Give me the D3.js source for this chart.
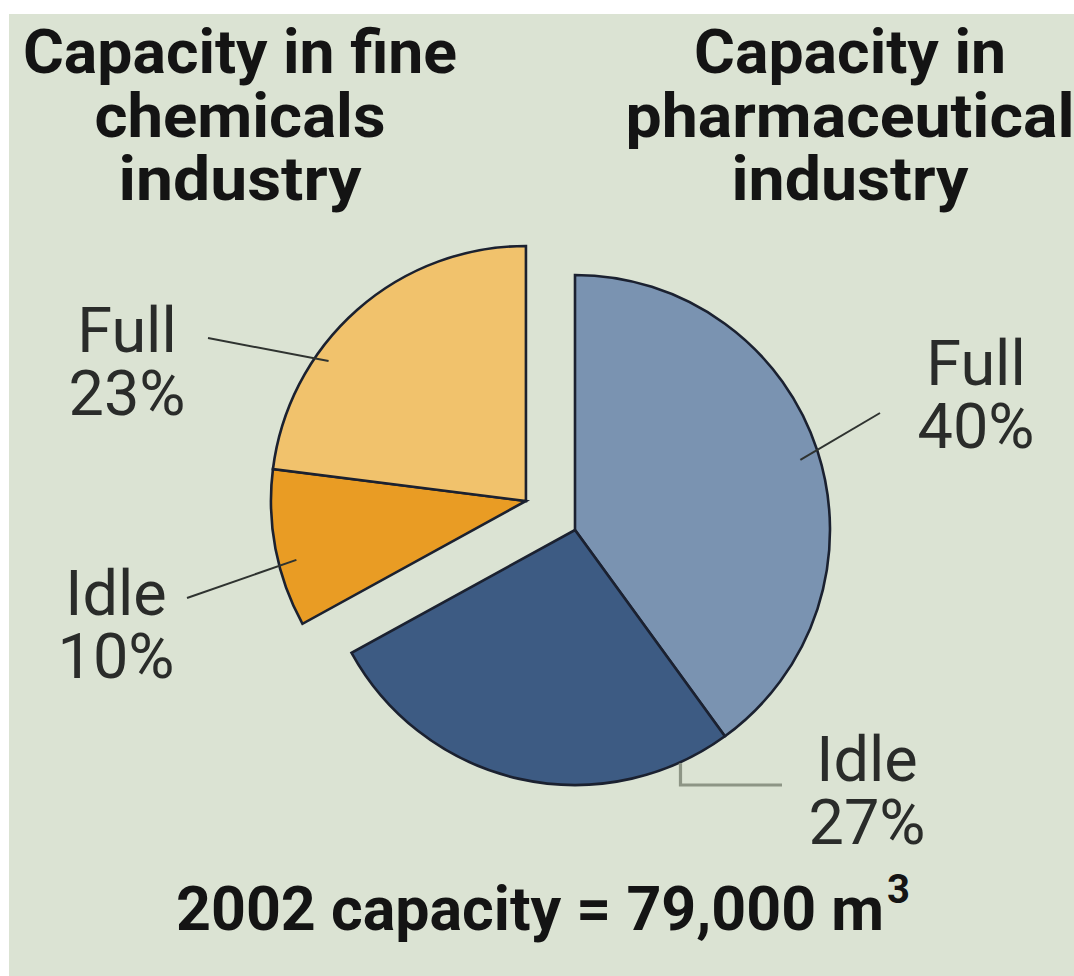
<!DOCTYPE html>
<html>
<head>
<meta charset="utf-8">
<script src="https://cdn.jsdelivr.net/npm/d3@7"></script>
<style>
  html, body { margin: 0; padding: 0; background: #ffffff; }
  svg { display: block; }
</style>
</head>
<body>
<svg id="chart" width="1074" height="976"></svg>
<script>
// ---- data ----
const industries = ["Pharmaceutical", "Pharmaceutical", "Fine chemicals", "Fine chemicals"];
const categories = ["Full", "Idle", "Idle", "Full"];
const values = [40, 27, 10, 23];
const titleFine = ["Capacity in fine", "chemicals", "industry"];
const titlePharma = ["Capacity in", "pharmaceutical", "industry"];
const footerText = "2002 capacity = 79,000 m";
const footerSup = "3";

// ---- layout ----
const W = 1074, H = 976;
const cx = 575, cy = 530, R = 255, explode = 57;
const colors = ["#7a93b1", "#3d5b83", "#e99c24", "#f1c26c"];

const svg = d3.select("#chart");
svg.append("rect").attr("x", 0).attr("y", 0).attr("width", W).attr("height", H).attr("fill", "#ffffff");
svg.append("rect").attr("x", 9).attr("y", 14).attr("width", W - 9).attr("height", H - 14).attr("fill", "#dbe3d3");

const rows = values.map((v, i) => ({ industry: industries[i], category: categories[i], value: v, idx: i }));
const pie = d3.pie().sort(null).value(d => d.value);
const arcs = pie(rows);
const arc = d3.arc().innerRadius(0).outerRadius(R);

// explode direction for fine chemicals group
const fine = arcs.filter(a => a.data.industry === "Fine chemicals");
const gStart = d3.min(fine, a => a.startAngle), gEnd = d3.max(fine, a => a.endAngle);
const gMid = (gStart + gEnd) / 2;
const offX = Math.sin(gMid) * explode, offY = -Math.cos(gMid) * explode;

function centerOf(a) {
  return a.data.industry === "Fine chemicals" ? [cx + offX, cy + offY] : [cx, cy];
}

const g = svg.append("g");
g.selectAll("path.slice").data(arcs).enter().append("path")
  .attr("class", "slice")
  .attr("transform", d => { const c = centerOf(d); return `translate(${c[0]},${c[1]})`; })
  .attr("d", arc)
  .attr("fill", (d, i) => colors[i])
  .attr("stroke", "#1b2130")
  .attr("stroke-width", 2.6)
  .attr("stroke-linejoin", "miter");

// ---- leader lines and labels ----
function innerPt(a, frac, r) {
  const ang = a.startAngle + frac * (a.endAngle - a.startAngle);
  const c = centerOf(a);
  return [c[0] + Math.sin(ang) * r, c[1] - Math.cos(ang) * r];
}
const labelLayout = [
  { frac: 0.505, r: 236, pts: [[880, 413]], lx: 976, ly: 385, stroke: "#2f3330", sw: 2 },
  { frac: 0.12, r: 256, pts: "elbow", lx: 867, ly: 781, stroke: "#8d9585", sw: 3.2 },
  { frac: 0.40, r: 237, pts: [[187, 598]], lx: 116, ly: 615, stroke: "#2f3330", sw: 2 },
  { frac: 0.34, r: 242, pts: [[208, 338]], lx: 127, ly: 352, stroke: "#2f3330", sw: 2 }
];

arcs.forEach((a, i) => {
  const L = labelLayout[i];
  const p0 = innerPt(a, L.frac, L.r);
  let pts;
  if (L.pts === "elbow") {
    pts = [p0, [p0[0], 785], [782, 785]];
  } else {
    pts = [p0].concat(L.pts);
  }
  svg.append("path")
    .attr("d", d3.line()(pts))
    .attr("fill", "none")
    .attr("stroke", L.stroke)
    .attr("stroke-width", L.sw);
  const t = svg.append("text")
    .attr("text-anchor", "middle")
    .attr("font-family", "Roboto, 'DejaVu Sans', sans-serif")
    .attr("font-size", 63)
    .attr("fill", "#2a2c2a");
  t.append("tspan").attr("x", L.lx).attr("y", L.ly).text(a.data.category);
  t.append("tspan").attr("x", L.lx).attr("y", L.ly + 63).text(a.data.value + "%");
});

// ---- titles ----
const titleFont = "Roboto, 'DejaVu Sans', sans-serif";
const fineLens = [434, 291, 243];
const pharmaLens = [312, 449, 237];
const baselines = [73, 137, 200];
titleFine.forEach((s, i) => {
  svg.append("text").attr("x", 240).attr("y", baselines[i])
    .attr("text-anchor", "middle").attr("font-family", titleFont)
    .attr("font-weight", "bold").attr("font-size", 62).attr("fill", "#141414")
    .attr("textLength", fineLens[i]).attr("lengthAdjust", "spacingAndGlyphs")
    .text(s);
});
titlePharma.forEach((s, i) => {
  svg.append("text").attr("x", 850).attr("y", baselines[i])
    .attr("text-anchor", "middle").attr("font-family", titleFont)
    .attr("font-weight", "bold").attr("font-size", 62).attr("fill", "#141414")
    .attr("textLength", pharmaLens[i]).attr("lengthAdjust", "spacingAndGlyphs")
    .text(s);
});

// ---- footer ----
svg.append("text").attr("x", 530).attr("y", 930)
  .attr("text-anchor", "middle").attr("font-family", titleFont)
  .attr("font-weight", "bold").attr("font-size", 62).attr("fill", "#141414")
  .attr("textLength", 708).attr("lengthAdjust", "spacingAndGlyphs")
  .text(footerText);
svg.append("text").attr("x", 887).attr("y", 903)
  .attr("font-family", titleFont)
  .attr("font-weight", "bold").attr("font-size", 40).attr("fill", "#141414")
  .text(footerSup);
</script>
</body>
</html>
